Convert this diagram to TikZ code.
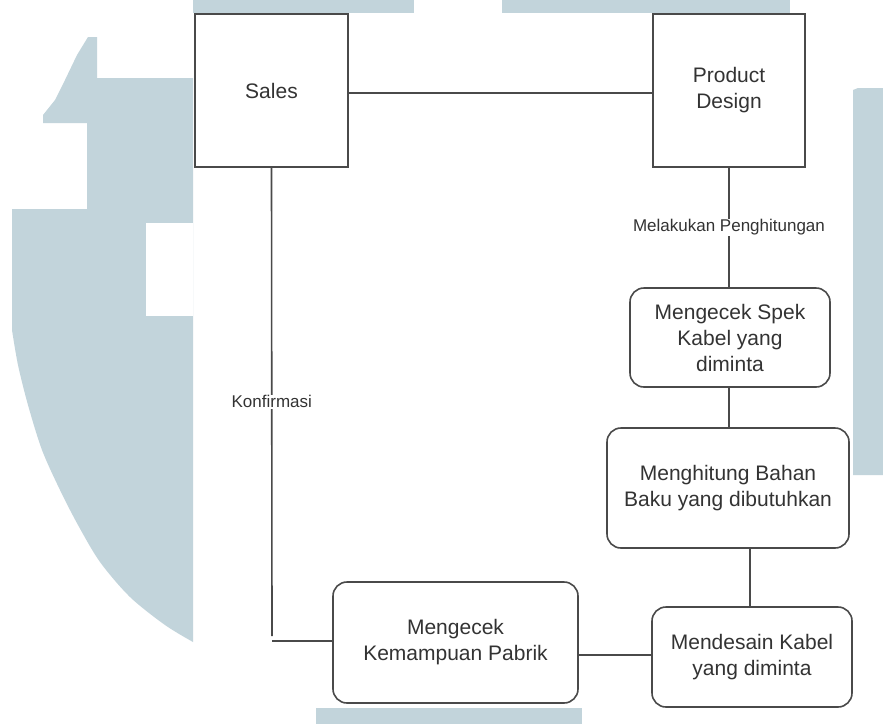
\documentclass[tikz,border=0pt]{standalone}
\usepackage{fontspec}
\setmainfont{Liberation Sans}
\definecolor{wm}{HTML}{C2D4DB}
\definecolor{ink}{HTML}{333333}
\definecolor{edge}{HTML}{4A4A4A}
\tikzset{
  box/.style={draw=edge, line width=1.6pt, fill=white, inner sep=0pt,
    align=center, text=ink, font=\fontsize{21}{26}\selectfont},
  roundbox/.style={box, rounded corners=14pt},
  link/.style={draw=edge, line width=1.6pt},
  tag/.style={fill=white, inner sep=1pt, text=ink, font=\fontsize{17}{19}\selectfont}
}
\begin{document}
\begin{tikzpicture}[x=1pt, y=-1pt]
  \useasboundingbox (0,0) rectangle (883,724);
  \fill[white] (0,0) rectangle (883,724);

  % background emblem pieces
  \fill[wm] (193,0) rectangle (414,13);
  \fill[wm] (502,0) rectangle (790,13);
  \fill[wm] (316,708) rectangle (582,724);
  \fill[wm] (853,90) -- (858,88) -- (883,88) -- (883,475) -- (853,475) -- cycle;
  \fill[wm] (88,37) -- (97,37) -- (97,78) -- (193,78)
    -- plot[smooth] coordinates {(193,642) (165,625) (130,597) (100,562) (78,525) (60,490) (42,450) (28,405) (18,365) (12,330)}
    -- (12,209) -- (87,209) -- (87,123) -- (43,123) -- (43,115)
    -- (55,100) -- (65,80) -- (77,55) -- cycle;
  \fill[white] (146,223) rectangle (193,316);

  % process nodes
  \node[box, minimum width=153pt, minimum height=153pt] (sales) at (271.5,90.5) {Sales};
  \node[box, minimum width=152pt, minimum height=153pt] (design) at (729,90.5) {Product\\Design};
  \node[roundbox, minimum width=200pt, minimum height=99pt] (spek) at (730,337.5)
    {Mengecek Spek\\Kabel yang\\diminta};
  \node[roundbox, minimum width=242pt, minimum height=120pt] (hitung) at (728,488)
    {Menghitung Bahan\\Baku yang dibutuhkan};
  \node[roundbox, minimum width=200pt, minimum height=100pt] (desain) at (752,657)
    {Mendesain Kabel\\yang diminta};
  \node[roundbox, minimum width=245pt, minimum height=121pt] (pabrik) at (455.5,642.5)
    {Mengecek\\Kemampuan Pabrik};

  \coordinate (konfEnd) at (272,636);
  \coordinate (konfStart) at (272,641);

  % connectors
  \draw[link] ([yshift=-2.5pt]sales.east) -- ([yshift=-2.5pt]design.west);
  \draw[link] (design.south) -- node[tag] {Melakukan Penghitungan} (design.south |- spek.north);
  \draw[link] (spek.south -| design.south) -- (hitung.north -| design.south);
  \draw[link] (hitung.south -| 750,0) -- (desain.north -| 750,0);
  \draw[link] ([yshift=2pt]desain.west) -- ([yshift=2pt]desain.west -| pabrik.east);
  \draw[link] (sales.south) -- node[tag, pos=0.5] {Konfirmasi} (konfEnd);
  \draw[link] (konfStart) -- (konfStart -| pabrik.west);
\end{tikzpicture}
\end{document}
